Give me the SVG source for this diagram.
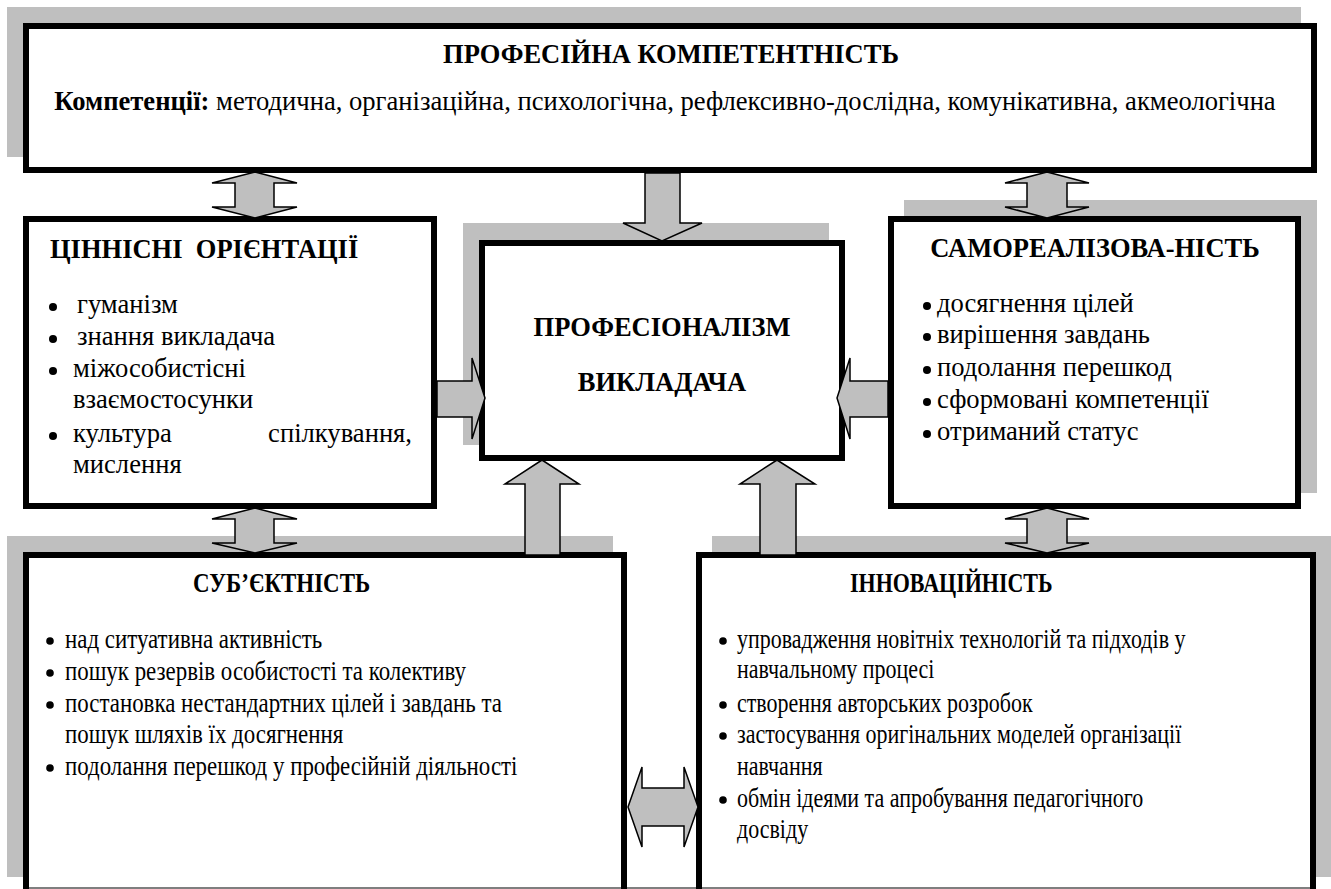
<svg xmlns="http://www.w3.org/2000/svg" width="1331" height="889" viewBox="0 0 1331 889">
<style>
.shadow{fill:#bfbfbf;stroke:none}
.box{fill:#fff;stroke:#000;stroke-width:6}
.arr{fill:#bfbfbf;stroke:#000;stroke-width:1.5;stroke-linejoin:miter}
.dot{fill:#000}
text{font-family:"Liberation Serif","Times New Roman",serif;fill:#000}
.t{font-weight:bold;font-size:26.5px}
.b{font-size:26.6px}
.bb{font-weight:bold}
</style>
<rect width="1331" height="889" fill="#fff"/>
<g id="shadows">
<rect class="shadow" x="7" y="7" width="1294" height="150"/>
<rect class="shadow" x="463" y="223" width="366" height="222"/>
<rect class="shadow" x="904" y="200" width="413" height="293"/>
<rect class="shadow" x="7" y="536" width="606" height="341"/>
<rect class="shadow" x="712" y="536" width="619" height="341"/>
</g>
<g id="node-competence">
<rect class="box" x="26" y="26" width="1288" height="144"/>
<text class="t" x="671" y="63" text-anchor="middle">ПРОФЕСІЙНА КОМПЕТЕНТНІСТЬ</text>
<text class="b" x="665" y="110" text-anchor="middle"><tspan class="bb">Компетенції:</tspan> методична, організаційна, психологічна, рефлексивно-дослідна, комунікативна, акмеологічна</text>
</g>
<g id="node-values">
<rect class="box" x="26" y="219" width="408" height="287"/>
<text class="t" x="50" y="258" xml:space="preserve" style="white-space:pre">ЦІННІСНІ  ОРІЄНТАЦІЇ</text>
<circle class="dot" cx="53" cy="307" r="4"/>
<circle class="dot" cx="53" cy="339" r="4"/>
<circle class="dot" cx="53" cy="371" r="4"/>
<circle class="dot" cx="53" cy="436" r="4"/>
<g class="b">
<text x="77" y="313">гуманізм</text>
<text x="77" y="345">знання викладача</text>
<text x="73" y="377">міжособистісні</text>
<text x="73" y="408">взаємостосунки</text>
<text x="73" y="442">культура</text><text x="412" y="442" text-anchor="end">спілкування,</text>
<text x="73" y="473">мислення</text>
</g>
</g>
<g id="node-center">
<rect class="box" x="482" y="243" width="360" height="215"/>
<text class="t" x="662" y="336" text-anchor="middle">ПРОФЕСІОНАЛІЗМ</text>
<text class="t" x="662" y="391" text-anchor="middle">ВИКЛАДАЧА</text>
</g>
<g id="node-self">
<rect class="box" x="891" y="219" width="407" height="287"/>
<text class="t" x="1095" y="257" text-anchor="middle">САМОРЕАЛІЗОВА-НІСТЬ</text>
<circle class="dot" cx="927" cy="306" r="4"/>
<circle class="dot" cx="927" cy="337" r="4"/>
<circle class="dot" cx="927" cy="370" r="4"/>
<circle class="dot" cx="927" cy="402" r="4"/>
<circle class="dot" cx="927" cy="434" r="4"/>
<g class="b">
<text x="937" y="312">досягнення цілей</text>
<text x="937" y="343">вирішення завдань</text>
<text x="937" y="376">подолання перешкод</text>
<text x="937" y="408">сформовані компетенції</text>
<text x="937" y="440">отриманий статус</text>
</g>
</g>
<g id="node-subject">
<rect class="box" x="26" y="555" width="598" height="340"/>
<text class="t" transform="matrix(0.866 0 0 1 193 592)">СУБ’ЄКТНІСТЬ</text>
<circle class="dot" cx="50" cy="641" r="3.8"/>
<circle class="dot" cx="50" cy="673" r="3.8"/>
<circle class="dot" cx="50" cy="705" r="3.8"/>
<circle class="dot" cx="50" cy="768" r="3.8"/>
<g class="b">
<text transform="matrix(0.861 0 0 1 65 648)">над ситуативна активність</text>
<text transform="matrix(0.861 0 0 1 65 680)">пошук резервів особистості та колективу</text>
<text transform="matrix(0.861 0 0 1 65 712)">постановка нестандартних цілей і завдань та</text>
<text transform="matrix(0.861 0 0 1 65 743)">пошук шляхів їх досягнення</text>
<text transform="matrix(0.861 0 0 1 65 775)">подолання перешкод у професійній діяльності</text>
</g>
</g>
<g id="node-innovation">
<rect class="box" x="699" y="555" width="614" height="340"/>
<text class="t" transform="matrix(0.83 0 0 1 850 592)">ІННОВАЦІЙНІСТЬ</text>
<circle class="dot" cx="723" cy="641" r="3.8"/>
<circle class="dot" cx="723" cy="705" r="3.8"/>
<circle class="dot" cx="723" cy="736" r="3.8"/>
<circle class="dot" cx="723" cy="800" r="3.8"/>
<g class="b">
<text transform="matrix(0.827 0 0 1 737 648)">упровадження новітніх технологій та підходів у</text>
<text transform="matrix(0.827 0 0 1 737 678)">навчальному процесі</text>
<text transform="matrix(0.827 0 0 1 737 712)">створення авторських розробок</text>
<text transform="matrix(0.827 0 0 1 737 743)">застосування оригінальних моделей організації</text>
<text transform="matrix(0.827 0 0 1 737 775)">навчання</text>
<text transform="matrix(0.827 0 0 1 737 807)">обмін ідеями та апробування педагогічного</text>
<text transform="matrix(0.827 0 0 1 737 838)">досвіду</text>
</g>
</g>
<line x1="23" y1="888" x2="1316" y2="888" stroke="#000" stroke-width="1.2"/>
<g id="connectors">
<polygon class="arr" points="255,172 297,183 274,183 274,207 297,207 255,218 212,207 235,207 235,183 212,183"/>
<polygon class="arr" points="1047,172 1089,183 1067,183 1067,207 1089,207 1047,218 1005,207 1027,207 1027,183 1005,183"/>
<polygon class="arr" points="255,508 297,519 274,519 274,543 297,543 255,553 212,543 235,543 235,519 212,519"/>
<polygon class="arr" points="1047,508 1089,519 1067,519 1067,543 1089,543 1047,553 1005,543 1027,543 1027,519 1005,519"/>
<polygon class="arr" points="645,173 680,173 680,223 702,223 662,241 623,223 645,223"/>
<polygon class="arr" points="437,381 472,381 472,358 485,398 472,439 472,417 437,417"/>
<polygon class="arr" points="888,381 850,381 850,358 837,398 850,439 850,417 888,417"/>
<polygon class="arr" points="525,555 525,484 505,484 542,460 579,484 560,484 560,555"/>
<polygon class="arr" points="760,555 760,484 740,484 777,460 815,484 796,484 796,555"/>
<polygon class="arr" points="628,807 642,767 642,788 684,788 684,767 698,807 684,847 684,826 642,826 642,847"/>
</g>
</svg>
